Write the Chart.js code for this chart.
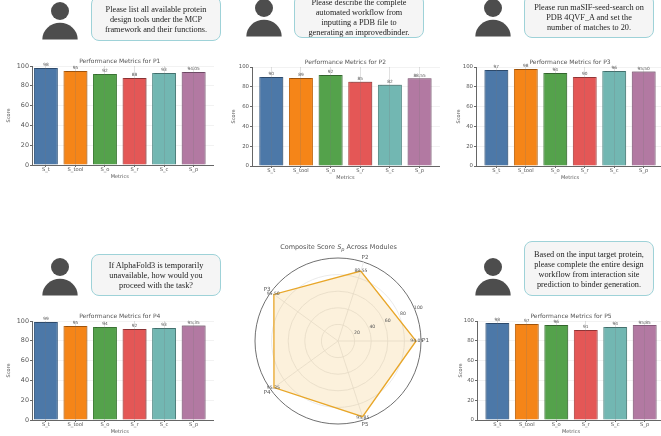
<!DOCTYPE html>
<html>
<head>
<meta charset="utf-8">
<title>Performance Metrics</title>
<script src="https://cdn.jsdelivr.net/npm/chart.js@4"></script>
<style>
html, body { margin: 0; padding: 0; background: #fff; }
#page { position: relative; width: 661px; height: 436px; overflow: hidden; }
canvas { position: absolute; }
.bubble {
    position: absolute; box-sizing: border-box; background: #f5f5f5;
    border: 1px solid #9ed2d8; border-radius: 8px; will-change: transform;
    font: 8.25px/10px "Liberation Serif", serif; color: #222; text-align: center;
}
.bubble div { position: absolute; left: 0; right: 0; white-space: nowrap; }
.avatar { position: absolute; }
#radarTitle {
    position: absolute; left: 230px; width: 217px; top: 242px; text-align: center;
    font: 6.5px/10px "DejaVu Sans", sans-serif; color: #555; white-space: nowrap; will-change: transform;
}
#radarTitle sub { font-size: 5px; line-height: 0; }
</style>
</head>
<body>
<div id="page">
    <div id="radarTitle">Composite Score <i>S<sub>p</sub></i> Across Modules</div>
    <canvas id="radar" width="217" height="200" style="left:230px;top:236px"></canvas>
</div>
<script>
// datos de las barras
const metrics = ['S_t', 'S_tool', 'S_o', 'S_r', 'S_c', 'S_p'];
const scoresP1 = [98, 95, 92, 88, 93, 94.05];
const scoresP2 = [90, 89, 92, 85, 82, 88.55];
const scoresP3 = [97, 98, 94, 90, 96, 95.50];
const scoresP4 = [99, 95, 94, 92, 93, 95.35];
const scoresP5 = [98, 97, 96, 91, 94, 95.85];
const scoreTicks = [0, 20, 40, 60, 80, 100];

// datos del radar, en sentido horario desde P1
const modules = ['P1', 'P5', 'P4', 'P3', 'P2'];
const compositeScores = [94.05, 95.85, 95.35, 95.50, 88.55];
const radarTicks = [20, 40, 60, 80, 100];

// preguntas de cada panel
const questionP1 = ['Please list all available protein', 'design tools under the MCP', 'framework and their functions.'];
const questionP2 = ['Please describe the complete', 'automated workflow from', 'inputting a PDB file to', 'generating an improvedbinder.'];
const questionP3 = ['Please run maSIF-seed-search on', 'PDB 4QVF_A and set the', 'number of matches to 20.'];
const questionP4 = ['If AlphaFold3 is temporarily', 'unavailable, how would you', 'proceed with the task?'];
const questionP5 = ['Based on the input target protein,', 'please complete the entire design', 'workflow from interaction site', 'prediction to binder generation.'];

const barColors = ['#4c78a8', '#f58518', '#54a24b', '#e45756', '#72b7b2', '#b279a2'];
const edgeColors = ['#3a5f88', '#c96a10', '#417f3a', '#b84445', '#578f8b', '#8c5f80'];
const textColor = '#555';
const axisFont = '"DejaVu Sans", sans-serif';

// posicion de cada panel en la pagina
const panels = [
    {name: 'P1', scores: scoresP1, left: 32, top: 66, width: 182, xMin: -0.47, scorePad: 4, tickSize: 6.4},
    {name: 'P2', scores: scoresP2, left: 252, top: 67, width: 188, xMin: -0.65, scorePad: 9, tickSize: 5.4},
    {name: 'P3', scores: scoresP3, left: 476, top: 67, width: 188, xMin: -0.69, scorePad: 10, tickSize: 5.4},
    {name: 'P4', scores: scoresP4, left: 32, top: 321, width: 182, xMin: -0.47, scorePad: 4, tickSize: 6.4},
    {name: 'P5', scores: scoresP5, left: 477, top: 321, width: 188, xMin: -0.69, scorePad: 11, tickSize: 5.4},
];
const bubbles = [
    {lines: questionP1, left: 91, top: -4, width: 130, height: 45, lineTop: 8},
    {lines: questionP2, left: 294, top: -6, width: 130, height: 44, lineTop: 3},
    {lines: questionP3, left: 524, top: -6, width: 130, height: 44, lineTop: 8},
    {lines: questionP4, left: 91, top: 254, width: 130, height: 42, lineTop: 6},
    {lines: questionP5, left: 524, top: 241, width: 130, height: 55, lineTop: 8},
];
const avatars = [[60, 10.7], [263.7, 8.3], [493.3, 8.3], [60, 266.7], [493, 267]];

const page = document.getElementById('page');

function drawBubbles() {
    bubbles.forEach(b => {
        const box = document.createElement('div');
        box.className = 'bubble';
        box.style.cssText = `left:${b.left}px;top:${b.top}px;width:${b.width}px;height:${b.height}px`;
        b.lines.forEach((line, i) => {
            const row = document.createElement('div');
            row.style.top = (b.lineTop + i * 10) + 'px';
            row.textContent = line;
            box.appendChild(row);
        });
        page.appendChild(box);
    });
}

function drawAvatars() {
    avatars.forEach(([x, y]) => {
        const svg = document.createElementNS('http://www.w3.org/2000/svg', 'svg');
        svg.setAttribute('class', 'avatar');
        svg.setAttribute('width', 40);
        svg.setAttribute('height', 42);
        svg.style.left = (x - 20) + 'px';
        svg.style.top = (y - 11) + 'px';
        svg.innerHTML = '<circle cx="20" cy="11" r="9" fill="#4d4d4d"/>' +
            '<path d="M2.3 39.5 A17.7 16.7 0 0 1 37.7 39.5 Z" fill="#4d4d4d"/>';
        page.appendChild(svg);
    });
}

// titulo, etiqueta del eje x y valores arriba de cada barra
const barLabels = {
    id: 'barLabels',
    afterDraw(chart, args, opts) {
        const {ctx, scales: {x, y}} = chart;
        const middle = x.getPixelForValue(2.5);
        ctx.save();
        ctx.textAlign = 'center';
        ctx.textBaseline = 'middle';
        ctx.fillStyle = textColor;
        ctx.font = `6px ${axisFont}`;
        ctx.fillText(`Performance Metrics for ${opts.name}`, middle, y.top - 5);
        ctx.font = `5px ${axisFont}`;
        ctx.fillText('Metrics', middle, y.bottom + 11.5);
        ctx.font = `4.3px ${axisFont}`;
        ctx.textBaseline = 'alphabetic';
        opts.scores.forEach((v, i) => {
            const text = Number.isInteger(v) ? String(v) : v.toFixed(2);
            ctx.fillText(text, x.getPixelForValue(i), y.getPixelForValue(v) - 1.5);
        });
        ctx.restore();
    }
};

// sombra gris alrededor de las barras
const barShadow = {
    id: 'barShadow',
    beforeDatasetsDraw(chart) {
        const ctx = chart.ctx;
        ctx.save();
        ctx.shadowColor = 'rgba(0,0,0,0.35)';
        ctx.shadowBlur = 1.5;
        ctx.shadowOffsetX = 0.5;
        ctx.shadowOffsetY = -0.5;
    },
    afterDatasetsDraw(chart) {
        chart.ctx.restore();
    }
};

function renderPanel(panel) {
    const canvas = document.createElement('canvas');
    canvas.width = panel.width + 30;
    canvas.height = 130;
    canvas.style.left = (panel.left - 30) + 'px';
    canvas.style.top = (panel.top - 11) + 'px';
    page.appendChild(canvas);

    new Chart(canvas, {
        type: 'bar',
        data: {
            datasets: [{
                data: panel.scores.map((v, i) => ({x: i, y: v})),
                backgroundColor: barColors,
                borderColor: edgeColors,
                borderWidth: 1,
                barPercentage: 0.81,
                categoryPercentage: 1,
                clip: false
            }]
        },
        options: {
            responsive: false,
            animation: false,
            layout: {padding: {top: 11}},
            plugins: {
                legend: {display: false},
                tooltip: {enabled: false},
                barLabels: {name: panel.name, scores: panel.scores}
            },
            scales: {
                x: {
                    type: 'linear',
                    position: 'bottom',
                    offset: false,
                    min: panel.xMin,
                    max: 5.69,
                    afterBuildTicks: s => { s.ticks = metrics.map((m, i) => ({value: i})); },
                    afterFit: s => { s.height = 20; },
                    ticks: {
                        autoSkip: false, maxRotation: 0, padding: 0, color: textColor,
                        font: {size: 5.2, family: axisFont},
                        callback: v => metrics[v]
                    },
                    grid: {offset: false, color: 'rgba(120,120,120,0.22)', tickColor: '#666', tickLength: 2, z: 1},
                    // el borde tiene que ir con la grilla, si no se dibuja arriba
                    border: {color: '#666', width: 1, z: 1}
                },
                y: {
                    min: 0,
                    max: 100,
                    afterBuildTicks: s => { s.ticks = scoreTicks.map(v => ({value: v})); },
                    afterFit: s => { s.width = 30; },
                    ticks: {padding: 1, color: textColor, font: {size: panel.tickSize, family: axisFont}},
                    grid: {color: 'rgba(0,0,0,0.05)', tickColor: '#666', tickLength: 2},
                    border: {color: '#666', width: 1},
                    title: {
                        display: true, text: 'Score', color: textColor,
                        font: {size: 5, family: axisFont}, padding: {top: panel.scorePad, bottom: 0}
                    }
                }
            }
        },
        plugins: [barLabels, barShadow]
    });
}

// etiquetas del radar: modulos, valores y marcas de la escala
const radarLabels = {
    id: 'radarLabels',
    afterDraw(chart) {
        const {ctx, scales: {r}} = chart;
        ctx.save();
        ctx.textAlign = 'center';
        ctx.textBaseline = 'middle';
        ctx.fillStyle = textColor;
        modules.forEach((label, i) => {
            const p = r.getPointPositionForValue(i, 105.5);
            ctx.font = `5.6px ${axisFont}`;
            ctx.fillText(label, p.x, p.y);
            const v = r.getPointPositionForValue(i, compositeScores[i] + 1);
            ctx.font = `4.6px ${axisFont}`;
            ctx.fillText(compositeScores[i].toFixed(2), v.x, v.y);
        });
        radarTicks.forEach(t => {
            const dist = r.getDistanceFromCenterForValue(t) + 4;
            const a = 22.5 * Math.PI / 180;
            ctx.fillText(String(t), r.xCenter + dist * Math.cos(a), r.yCenter - dist * Math.sin(a));
        });
        ctx.restore();
    }
};

function renderRadar() {
    new Chart(document.getElementById('radar'), {
        type: 'radar',
        data: {
            labels: modules,
            datasets: [{
                data: compositeScores,
                borderColor: '#e8a628',
                borderWidth: 1.3,
                backgroundColor: 'rgba(235,170,50,0.17)',
                fill: true,
                pointRadius: 0
            }]
        },
        options: {
            responsive: false,
            animation: false,
            layout: {padding: {left: 25, right: 26, top: 22, bottom: 12}},
            plugins: {legend: {display: false}, tooltip: {enabled: false}},
            scales: {
                r: {
                    min: 0,
                    max: 100,
                    startAngle: 90,
                    ticks: {display: false, stepSize: 20},
                    pointLabels: {display: false},
                    angleLines: {color: '#e4e4e4', lineWidth: 0.8},
                    grid: {
                        circular: true,
                        color: c => (c.tick.value === 100 ? '#707070' : '#e4e4e4'),
                        lineWidth: c => (c.tick.value === 100 ? 1 : 0.8)
                    }
                }
            }
        },
        plugins: [radarLabels]
    });
}

drawAvatars();
drawBubbles();
panels.forEach(renderPanel);
renderRadar();
</script>
</body>
</html>
